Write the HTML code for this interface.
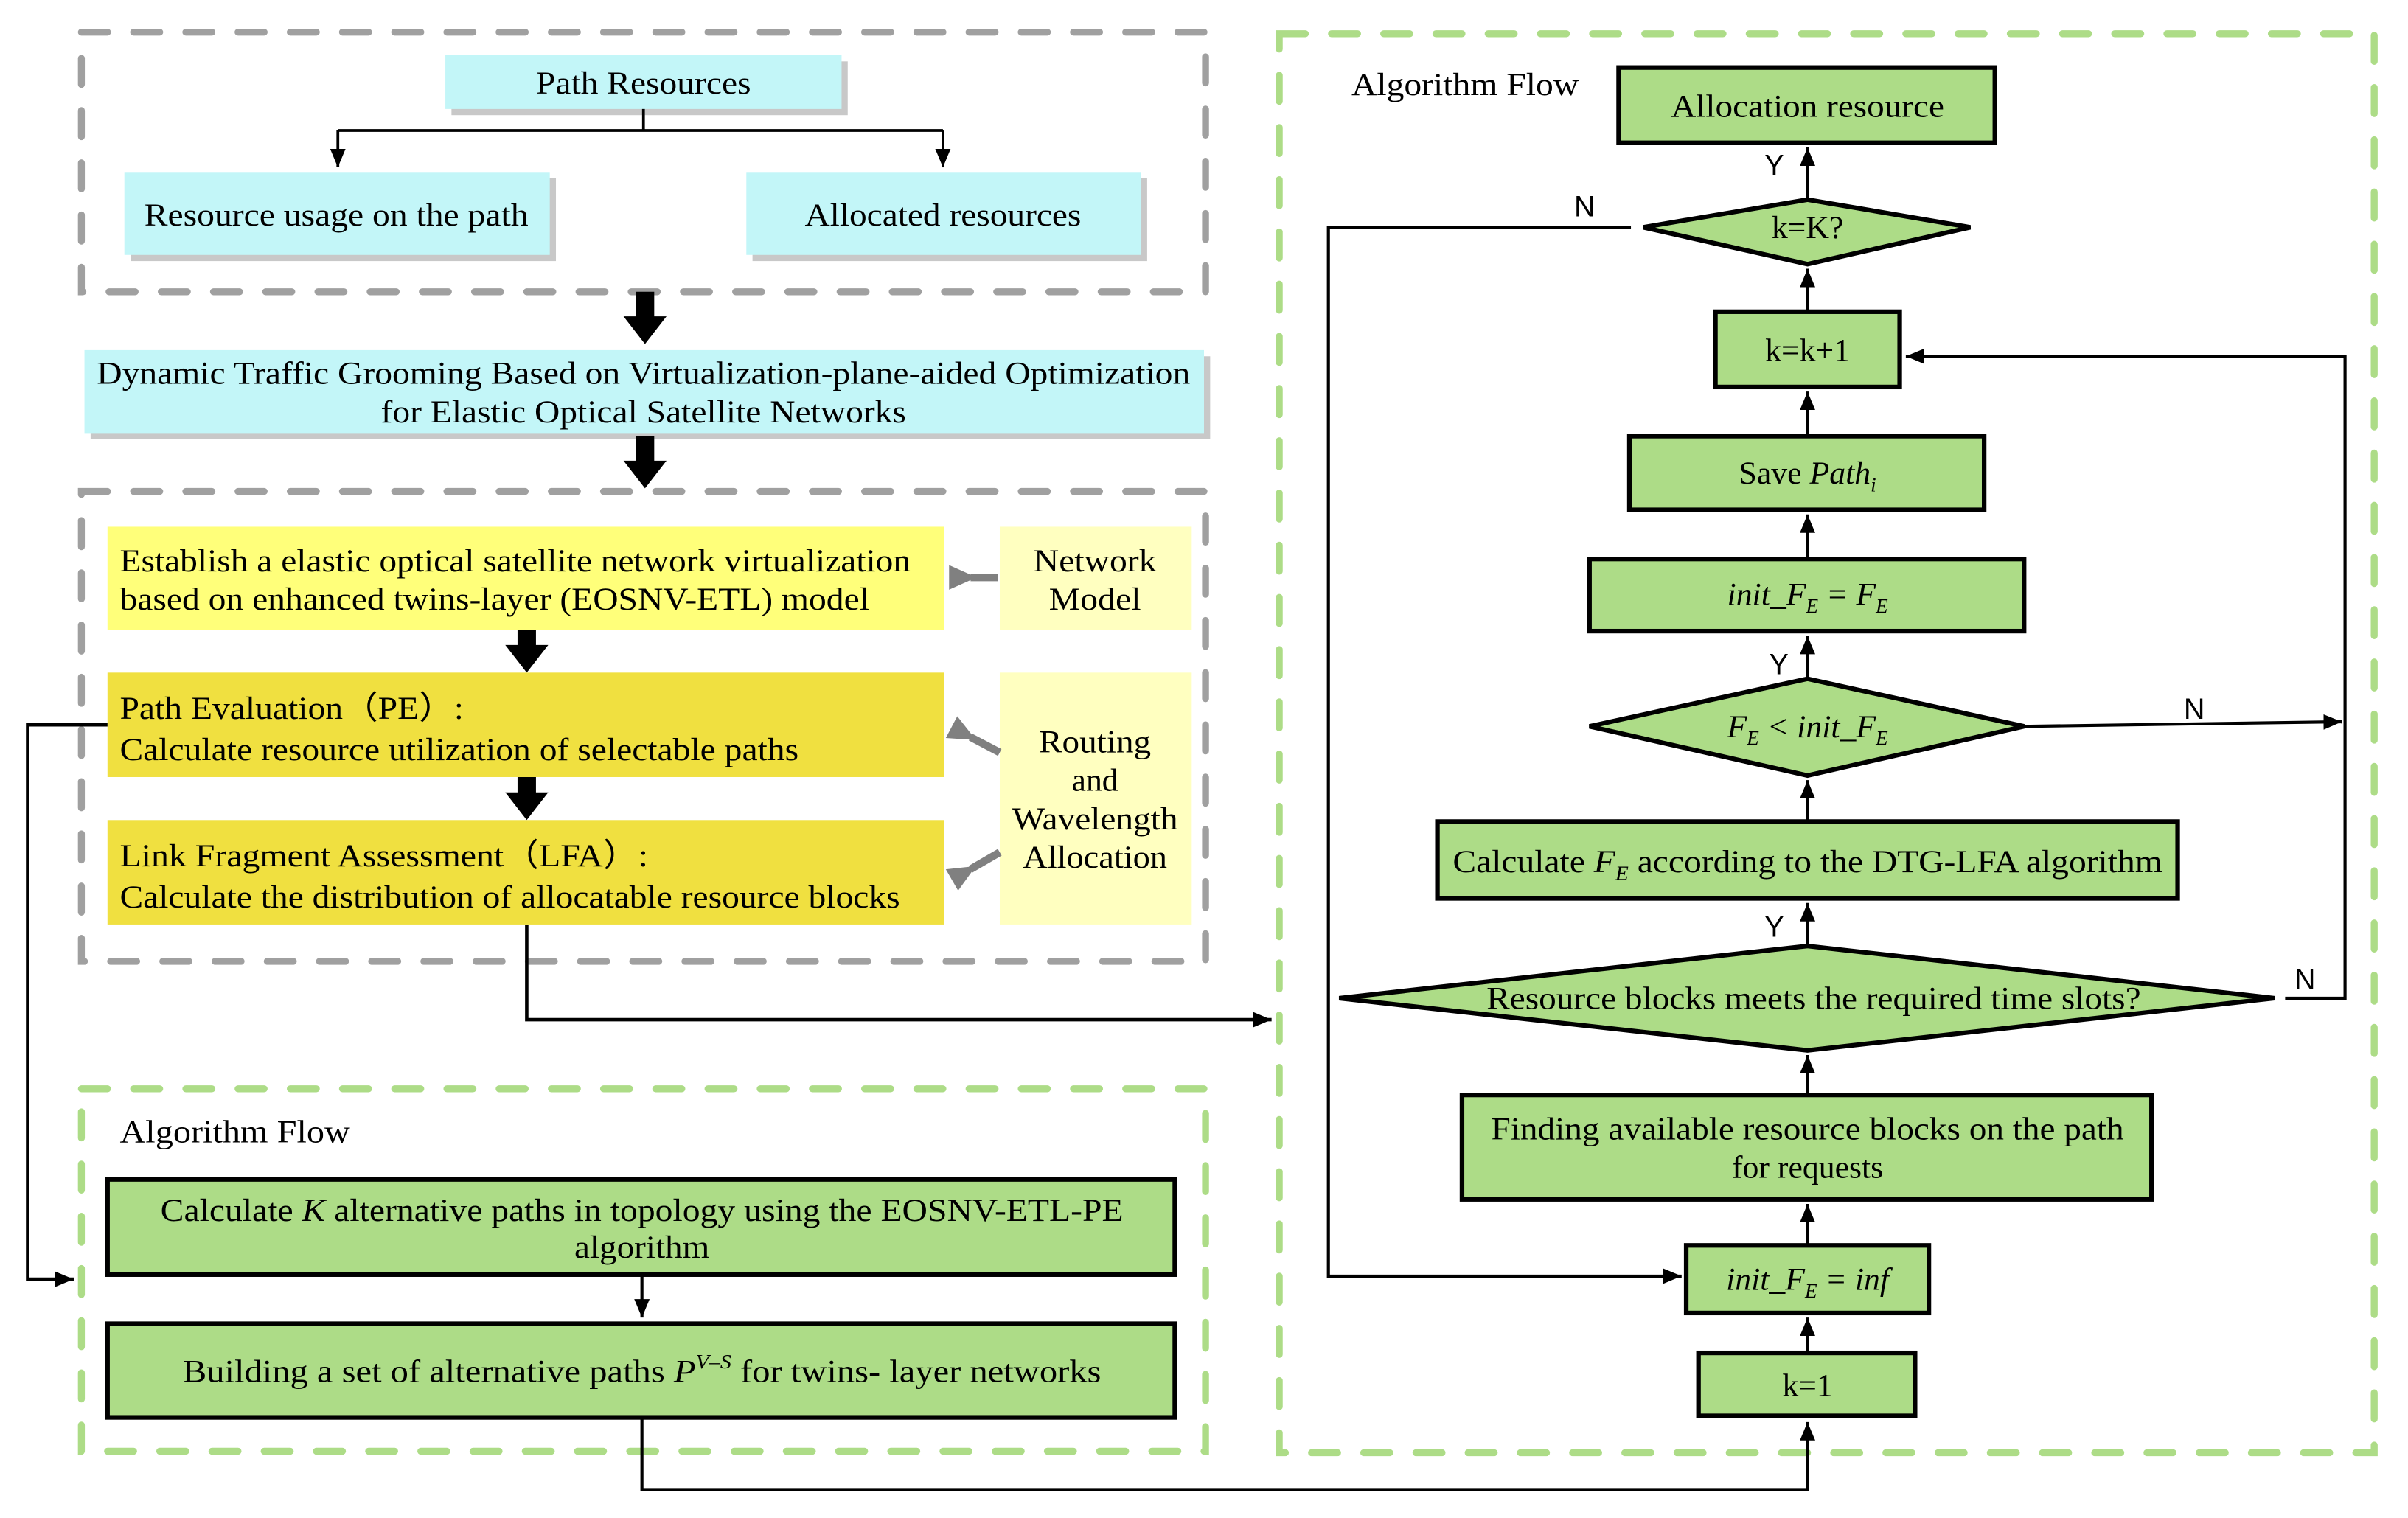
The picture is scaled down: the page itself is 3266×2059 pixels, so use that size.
<!DOCTYPE html>
<html><head><meta charset="utf-8"><style>html,body{margin:0;padding:0;background:#fff}svg{display:block}</style></head>
<body>
<svg width="3266" height="2059" viewBox="0 0 1568 988.5" preserveAspectRatio="none" xmlns="http://www.w3.org/2000/svg" font-family="Liberation Serif, serif" font-size="21">
<defs>
<marker id="a" markerUnits="userSpaceOnUse" markerWidth="14" markerHeight="14" refX="12" refY="6" orient="auto"><path d="M0,1 L12,6 L0,11 z" fill="#000"/></marker>
<marker id="g" markerUnits="userSpaceOnUse" markerWidth="24" markerHeight="24" refX="4" refY="10" orient="auto"><path d="M18,2 L0,10 L18,18 z" fill="#808080"/></marker>
</defs>
<g fill="none" stroke-width="4.5" stroke-linecap="round">
<rect x="53" y="21" width="732" height="169" stroke="#a0a0a0" stroke-dasharray="17,17"/>
<rect x="53" y="320" width="732" height="306" stroke="#a0a0a0" stroke-dasharray="17,17"/>
<rect x="53" y="709" width="732" height="236" stroke="#addc87" stroke-dasharray="17,17"/>
<rect x="833" y="22" width="713" height="924" stroke="#addc87" stroke-dasharray="17,17"/>
</g>
<g fill="#c8c8c8">
<rect x="294" y="40" width="258" height="35"/><rect x="85" y="116" width="277" height="54"/><rect x="490" y="116" width="257" height="54"/><rect x="59" y="232" width="729" height="54"/>
</g>
<g fill="#c3f6f8">
<rect x="290" y="36" width="258" height="35"/><rect x="81" y="112" width="277" height="54"/><rect x="486" y="112" width="257" height="54"/><rect x="55" y="228" width="729" height="54"/>
</g>
<text x="419" y="61" text-anchor="middle" textLength="140" lengthAdjust="spacingAndGlyphs">Path Resources</text>
<text x="219" y="147" text-anchor="middle" textLength="250" lengthAdjust="spacingAndGlyphs">Resource usage on the path</text>
<text x="614" y="147" text-anchor="middle" textLength="180" lengthAdjust="spacingAndGlyphs">Allocated resources</text>
<text x="419" y="250" text-anchor="middle" textLength="712" lengthAdjust="spacingAndGlyphs">Dynamic Traffic Grooming Based on Virtualization-plane-aided Optimization</text>
<text x="419" y="275" text-anchor="middle" textLength="342" lengthAdjust="spacingAndGlyphs">for Elastic Optical Satellite Networks</text>
<g stroke="#000" stroke-width="1.8" fill="none">
<path d="M419,71 V85 M220,85 H614"/>
<path d="M220,85 V109" marker-end="url(#a)"/><path d="M614,85 V109" marker-end="url(#a)"/>
</g>
<g fill="#000">
<path d="M414,190 h12 v16 h8 l-14,18 l-14,-18 h8z"/>
<path d="M414,284 h12 v16 h8 l-14,18 l-14,-18 h8z"/>
<path d="M337,410 h12 v10 h8 l-14,18 l-14,-18 h8z"/>
<path d="M337,506 h12 v10 h8 l-14,18 l-14,-18 h8z"/>
</g>
<rect x="70" y="343" width="545" height="67" fill="#ffff7a"/>
<rect x="70" y="438" width="545" height="68" fill="#f0e040"/>
<rect x="70" y="534" width="545" height="68" fill="#f0e040"/>
<rect x="651" y="343" width="125" height="67" fill="#ffffc0"/>
<rect x="651" y="438" width="125" height="164" fill="#ffffc0"/>
<g text-anchor="start">
<text x="78" y="372" textLength="515" lengthAdjust="spacingAndGlyphs">Establish a elastic optical satellite network virtualization</text>
<text x="78" y="397" textLength="488" lengthAdjust="spacingAndGlyphs">based on enhanced twins-layer (EOSNV-ETL) model</text>
<text x="78" y="468" textLength="224" lengthAdjust="spacingAndGlyphs">Path Evaluation（PE）:</text>
<text x="78" y="495" textLength="442" lengthAdjust="spacingAndGlyphs">Calculate resource utilization of selectable paths</text>
<text x="78" y="564" textLength="344" lengthAdjust="spacingAndGlyphs">Link Fragment Assessment（LFA）:</text>
<text x="78" y="591" textLength="508" lengthAdjust="spacingAndGlyphs">Calculate the distribution of allocatable resource blocks</text>
</g>
<g text-anchor="middle">
<text x="713" y="372" textLength="80" lengthAdjust="spacingAndGlyphs">Network</text><text x="713" y="397" textLength="60" lengthAdjust="spacingAndGlyphs">Model</text>
<text x="713" y="490" textLength="73" lengthAdjust="spacingAndGlyphs">Routing</text><text x="713" y="515">and</text><text x="713" y="540" textLength="108" lengthAdjust="spacingAndGlyphs">Wavelength</text><text x="713" y="565" textLength="94" lengthAdjust="spacingAndGlyphs">Allocation</text>
</g>
<g stroke="#808080" stroke-width="5" fill="none">
<path d="M650,376 H632" marker-end="url(#g)"/>
<path d="M651,490 L632,480" marker-end="url(#g)"/>
<path d="M651,555 L632,566" marker-end="url(#g)"/>
</g>
<g stroke="#000" stroke-width="2.2" fill="none">
<path d="M343,602 V664 H828" marker-end="url(#a)"/>
<path d="M70,472 H18 V833 H48" marker-end="url(#a)"/>
</g>
<text x="78" y="744" textLength="150" lengthAdjust="spacingAndGlyphs">Algorithm Flow</text>
<text x="880" y="62" textLength="148" lengthAdjust="spacingAndGlyphs">Algorithm Flow</text>
<g fill="#addc87" stroke="#000" stroke-width="3">
<rect x="70" y="768" width="695" height="62"/>
<rect x="70" y="862" width="695" height="61"/>
<rect x="1054" y="44" width="245" height="49"/>
<path d="M1070,148 L1177,130 L1283,148 L1177,172 z"/>
<rect x="1117" y="203" width="120" height="49"/>
<rect x="1061" y="284" width="231" height="48"/>
<rect x="1035" y="364" width="283" height="47"/>
<path d="M1035,473 L1177,442 L1318,473 L1177,505 z"/>
<rect x="936" y="535" width="482" height="50"/>
<path d="M872,650 L1177,616 L1481,650 L1177,684 z"/>
<rect x="952" y="713" width="449" height="68"/>
<rect x="1098" y="811" width="158" height="44"/>
<rect x="1106" y="881" width="141" height="41"/>
</g>
<g text-anchor="middle">
<text x="418" y="795" textLength="627" lengthAdjust="spacingAndGlyphs">Calculate <tspan font-style="italic">K</tspan> alternative paths in topology using the EOSNV-ETL-PE</text>
<text x="418" y="819" textLength="88" lengthAdjust="spacingAndGlyphs">algorithm</text>
<text x="418" y="900" textLength="598" lengthAdjust="spacingAndGlyphs">Building a set of alternative paths  <tspan font-style="italic">P</tspan><tspan font-style="italic" font-size="13" dy="-9">V–S</tspan><tspan dy="9"> for twins- layer networks</tspan></text>
<text x="1177" y="76" textLength="178" lengthAdjust="spacingAndGlyphs">Allocation resource</text>
<text x="1177" y="155">k=K?</text>
<text x="1177" y="235">k=k+1</text>
<text x="1177" y="315">Save <tspan font-style="italic">Path</tspan><tspan font-style="italic" font-size="13" dy="5">i</tspan></text>
<text x="1177" y="394" font-style="italic">init_F<tspan font-size="13" dy="5">E</tspan><tspan dy="-5"> = F</tspan><tspan font-size="13" dy="5">E</tspan></text>
<text x="1177" y="480" font-style="italic">F<tspan font-size="13" dy="5">E</tspan><tspan dy="-5"> &lt; init_F</tspan><tspan font-size="13" dy="5">E</tspan></text>
<text x="1177" y="568" textLength="462" lengthAdjust="spacingAndGlyphs">Calculate <tspan font-style="italic">F</tspan><tspan font-style="italic" font-size="13" dy="5">E</tspan><tspan dy="-5"> according to the DTG-LFA algorithm</tspan></text>
<text x="1181" y="657" textLength="426" lengthAdjust="spacingAndGlyphs">Resource blocks meets the required time slots?</text>
<text x="1177" y="742" textLength="412" lengthAdjust="spacingAndGlyphs">Finding available resource blocks on the path</text>
<text x="1177" y="767">for requests</text>
<text x="1177" y="840" font-style="italic">init_F<tspan font-size="13" dy="5">E</tspan><tspan dy="-5"> = inf</tspan></text>
<text x="1177" y="909">k=1</text>
</g>
<g stroke="#000" stroke-width="2" fill="none">
<path d="M418,830 V858" marker-end="url(#a)"/>
<path d="M418,923 V970 H1177 V926" marker-end="url(#a)"/>
<path d="M1177,130 V96" marker-end="url(#a)"/>
<path d="M1177,203 V175" marker-end="url(#a)"/>
<path d="M1177,284 V255" marker-end="url(#a)"/>
<path d="M1177,364 V335" marker-end="url(#a)"/>
<path d="M1177,442 V414" marker-end="url(#a)"/>
<path d="M1177,535 V508" marker-end="url(#a)"/>
<path d="M1177,616 V588" marker-end="url(#a)"/>
<path d="M1177,713 V687" marker-end="url(#a)"/>
<path d="M1177,811 V784" marker-end="url(#a)"/>
<path d="M1177,881 V858" marker-end="url(#a)"/>
<path d="M1318,473 L1525,470" marker-end="url(#a)"/>
<path d="M1488,650 H1527 V232 H1241" marker-end="url(#a)"/>
<path d="M1062,148 H865 V831 H1095" marker-end="url(#a)"/>
</g>
<g font-family="Liberation Sans, sans-serif" font-size="19">
<text x="1149" y="114">Y</text>
<text x="1025" y="141">N</text>
<text x="1152" y="439">Y</text>
<text x="1422" y="468">N</text>
<text x="1149" y="610">Y</text>
<text x="1494" y="644">N</text>
</g>
</svg>
</body></html>
